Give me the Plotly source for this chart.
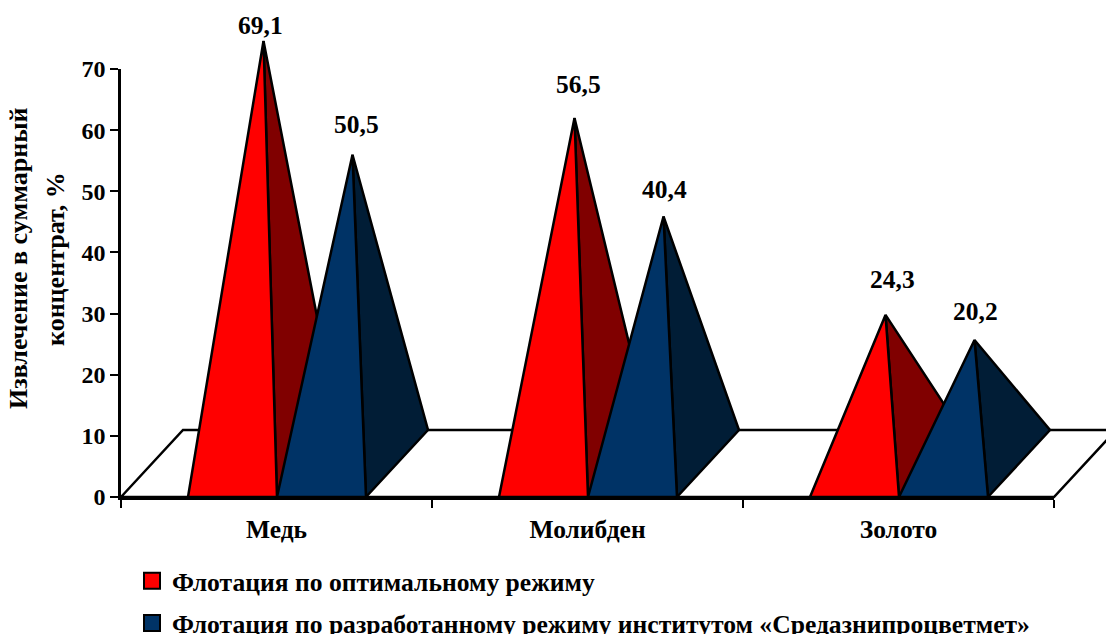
import plotly.graph_objects as go

categories = ["Медь", "Молибден", "Золото"]
series_names = ["Флотация по оптимальному режиму",
                "Флотация по разработанному режиму институтом «Средазнипроцветмет»"]
optimal = [69.1, 56.5, 24.3]
developed = [50.5, 40.4, 20.2]
value_labels = [["69,1", "56,5", "24,3"], ["50,5", "40,4", "20,2"]]
y_ticks = [0, 10, 20, 30, 40, 50, 60, 70]
y_title_lines = ["Извлечение в суммарный", "концентрат, %"]

W, H = 1106, 634
X0, X1, Y0, Y70 = 121, 1054, 497, 69
CAT = (X1 - X0) / 3
UNIT = (Y0 - Y70) / 70
DX = 62 / CAT          # depth along x, category units
DY = 67 / UNIT         # depth along y, value units
LEFT = 67 / CAT
BW = 89 / CAT

FRONT = ["#ff0000", "#003366"]
SIDE = ["#800000", "#011d36"]

fig = go.Figure()

# the axes with line and ticks: a carrier trace so they are drawn
fig.add_trace(go.Scatter(x=[0, 3], y=[0, 70], mode="none", showlegend=False, hoverinfo="skip"))


def poly(xs, ys, fill):
    fig.add_trace(go.Scatter(
        x=xs + xs[:1], y=ys + ys[:1], mode="lines", fill="toself", fillcolor=fill,
        line=dict(color="black", width=2.5), showlegend=False, hoverinfo="skip",
        xaxis="x2", yaxis="y2"))


# floor
poly([0, 3, 3 + DX, DX], [0, 0, DY, DY], "white")

# x, y pixel offsets of value labels from the apex
label_shift = [[(-3, 16), (4, 34), (7, 35)], [(4, 30), (1, 27), (1, 28)]]

for i in range(len(categories)):
    for s, vals in enumerate([optimal, developed]):
        x0 = i + LEFT + s * BW
        x1 = x0 + BW
        ax = (x0 + x1) / 2 + DX / 2
        ay = DY / 2 + vals[i]
        poly([x1, x1 + DX, ax], [0, DY, ay], SIDE[s])
        poly([x0, x1, ax], [0, 0, ay], FRONT[s])
        fig.add_annotation(x=ax, y=ay, xref="x2", yref="y2", text=value_labels[s][i], showarrow=False,
                           xshift=label_shift[s][i][0], yshift=label_shift[s][i][1],
                           font=dict(size=25.5, color="black"))

for s, name in enumerate(series_names):
    fig.add_trace(go.Scatter(
        x=[None], y=[None], mode="markers", name=name, legendgroup=str(s),
        marker=dict(symbol="square", size=16, color=FRONT[s], line=dict(color="black", width=2))))

for line, px in zip(y_title_lines, [18, 55]):
    fig.add_annotation(xref="paper", yref="paper", x=px / W, y=1 - 259 / H,
                       xanchor="center", yanchor="middle",
                       text=line, textangle=-90, showarrow=False, font=dict(size=26, color="black"))

fig.update_layout(
    width=W, height=H, margin=dict(l=0, r=0, t=0, b=0, autoexpand=False),
    plot_bgcolor="rgba(0,0,0,0)", paper_bgcolor="white",
    font=dict(family="Liberation Serif", color="black", size=24, weight="bold"),
    showlegend=True,
    legend=dict(x=132 / W, y=1 - 557.5 / H, xanchor="left", yanchor="top",
                tracegroupgap=6, bgcolor="rgba(0,0,0,0)", font=dict(size=25.6, weight="bold")),
    xaxis=dict(domain=[X0 / W, X1 / W], range=[0, 3], showgrid=False, zeroline=False,
               showline=True, linecolor="black", linewidth=2.5,
               tickvals=[0.5, 1.5, 2.5], ticktext=categories, ticks="", ticklabelstandoff=8,
               tickfont=dict(size=25.5),
               minor=dict(tickvals=[0, 1, 2, 3], ticks="outside", ticklen=8, tickwidth=2, tickcolor="black")),
    yaxis=dict(domain=[1 - Y0 / H, 1 - Y70 / H], range=[0, 70], showgrid=False, zeroline=False,
               showline=True, linecolor="black", linewidth=2.5,
               tickvals=y_ticks, ticks="outside", ticklen=8, tickwidth=2, tickcolor="black"),
    # full-window axes for the pyramids, which stand taller than the 0-70 axis
    xaxis2=dict(domain=[0, 1], range=[-X0 / CAT, (W - X0) / CAT], visible=False, anchor="y2"),
    yaxis2=dict(domain=[0, 1], range=[-(H - Y0) / UNIT, Y0 / UNIT], visible=False, anchor="x2"),
)

fig.write_html("out.html", config={"displayModeBar": False},
               post_script="document.body.style.margin='0';document.body.style.overflow='hidden';")
